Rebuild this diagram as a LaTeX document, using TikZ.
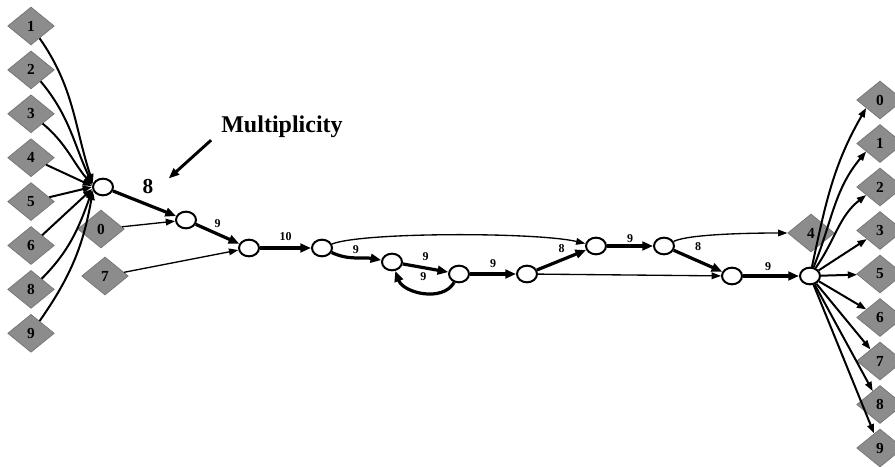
\documentclass[tikz,border=0pt]{standalone}
\usepackage{fontspec}
\setmainfont{Liberation Serif}
\usetikzlibrary{arrows.meta, shapes.geometric}

\tikzset{
  state/.style={ellipse, draw, line width=1.5pt, fill=white, inner sep=0pt,
    minimum width=15pt, minimum height=12.5pt},
  token/.style={diamond, aspect=1.23, draw=black!55, fill=black!45, line width=0.5pt, inner sep=0pt,
    minimum width=35pt, minimum height=28.5pt, font=\fontsize{11.5}{11.5}\selectfont\bfseries},
  heavy/.style={line width=2.4pt, -{Triangle[length=8pt,width=6.5pt]}},
  feed/.style={line width=1.5pt, -{Triangle[length=7pt,width=5pt]}},
  light/.style={line width=1pt, -{Triangle[length=7pt,width=5pt]}},
  pointer/.style={line width=2.2pt, -{Triangle[length=8pt,width=6pt]}},
  elab/.style={font=\fontsize{9}{9}\selectfont\bfseries, inner sep=1pt},
}

\begin{document}
\begin{tikzpicture}[x=0.75pt, y=0.75pt]
    \useasboundingbox (0,0) rectangle (895,-467);

    % input tokens on the left
    \foreach \n [count=\k from 0] in {1,2,3,4,5,6,8,9}
        \node[token] (l\n) at (31,{-26-43.9*\k}) {\n};
    \node[token] (m0) at (101,-229) {0};
    \node[token] (m7) at (105,-276) {7};

    % output tokens on the right
    \foreach \n [count=\k from 0] in {0,1,2,3,5,6,7,8,9}
        \node[token] (r\n) at (880,{-100-43.5*\k}) {\n};
    \node[token] (q4) at (811,-233) {4};

    % states
    \node[state] (a) at (103,-187) {};
    \node[state] (b) at (186,-220) {};
    \node[state] (c) at (249,-248) {};
    \node[state] (d) at (322,-248) {};
    \node[state] (e) at (392,-262) {};
    \node[state] (f) at (459,-274) {};
    \node[state] (g) at (527,-274) {};
    \node[state] (h) at (596,-246) {};
    \node[state] (i) at (664,-246) {};
    \node[state] (j) at (732,-276) {};
    \node[state] (k) at (810,-276) {};

    % tokens feeding the first state
    \draw[feed] (l1) to[out=-55, in=108] (a.160);
    \draw[feed] (l2) to[out=-50, in=115] (a.165);
    \draw[feed] (l3) to[out=-40, in=130] (a.170);
    \draw[feed] (l4) -- (a.175);
    \draw[feed] (l5) -- (a.west);
    \draw[feed] (l6) -- (a.190);
    \draw[feed] (l8) to[out=45, in=-110] (a.195);
    \draw[feed] (l9) to[out=55, in=-100] (a.200);
    \draw[light] (m0) -- (b);
    \draw[light] (m7) -- (c);

    % main chain
    \draw[heavy] (a) -- (b);
    \draw[heavy] (b) -- (c) node[elab, midway, above=2.7pt] {9};
    \draw[heavy] (c) -- (d) node[elab, midway, above=3.4pt] {10};
    \draw[heavy] (d) to[out=-25, in=170] node[elab, above=1.2pt] {9} (e);
    \draw[heavy] (e) -- (f) node[elab, midway, above=3.4pt] {9};
    \draw[heavy] (f) to[out=-120, in=-70] node[elab, above=7pt] {9} (e);
    \draw[heavy] (f) -- (g) node[elab, midway, above=2.7pt] {9};
    \draw[heavy] (g) -- (h) node[elab, midway, above=3.4pt] {8};
    \draw[heavy] (h) -- (i) node[elab, midway, above=0.5pt] {9};
    \draw[heavy] (i) -- (j) node[elab, midway, above=5.7pt] {8};
    \draw[heavy] (j) -- (k) node[elab, pos=.45, above=2pt] {9};

    % bypasses
    \draw[light] (d) .. controls +(40,16) and +(-60,14) .. (h);
    \draw[light] (g) -- (j);
    \draw[light] (i) .. controls +(25,12) and +(-60,0) .. (q4);

    % fan out to the right
    \draw[feed] (k) to[out=78, in=-120] (r0.-150);
    \draw[feed] (k) to[out=68, in=-130] (r1.-150);
    \draw[feed] (k) to[out=55, in=-142] (r2.-150);
    \draw[feed] (k) -- (r3);
    \draw[feed] (k) -- (r5);
    \draw[feed] (k) -- (r6);
    \draw[feed] (k) -- (r7);
    \draw[feed] (k) -- (r8);
    \draw[feed] (k) -- (r9);

    % multiplicity note
    \node[font=\fontsize{16}{16}\selectfont\bfseries, inner sep=0pt] (num) at (148,-187) {8};
    \node[font=\fontsize{18}{18}\selectfont\bfseries, inner sep=0pt] (mtext) at (282,-127) {Multiplicity};
    \draw[pointer] ([shift={(-10,-2)}]mtext.south west) -- ([shift={(15,1)}]num.north east);
\end{tikzpicture}
\end{document}
